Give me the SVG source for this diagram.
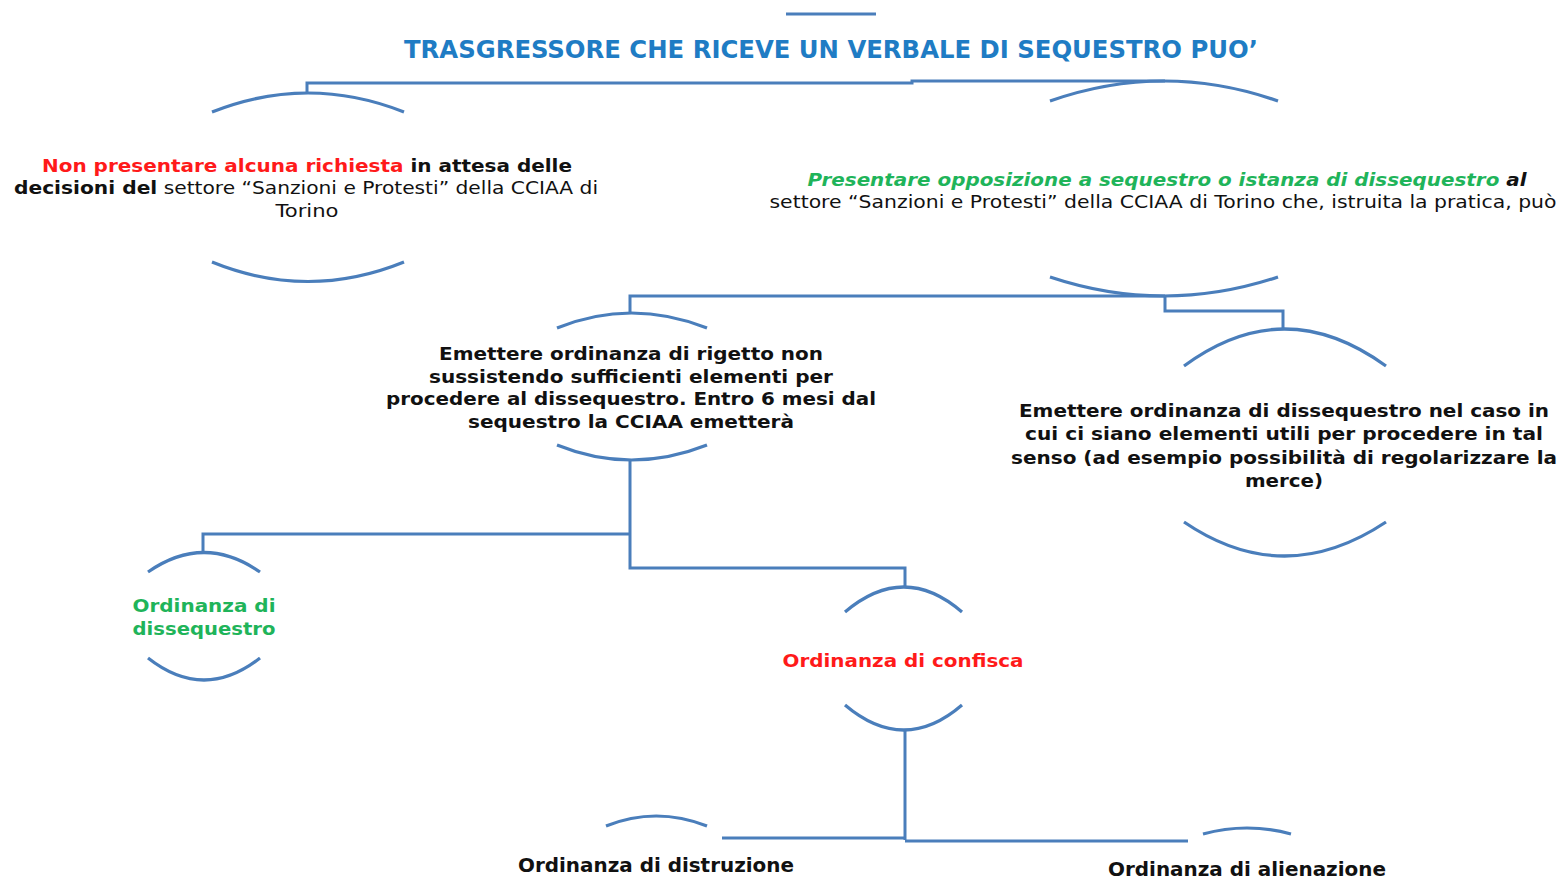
<svg xmlns="http://www.w3.org/2000/svg" width="1565" height="878" viewBox="0 0 1565 878">
<style>
.ln{fill:none;stroke:#4a7ebb;stroke-width:3}
.arc{fill:none;stroke:#4a7ebb;stroke-width:3.2}
.t{font-family:"DejaVu Sans","Liberation Sans",sans-serif;font-size:18px;fill:#111}
.b{font-weight:bold}
.red{fill:#ff1a1a}
.grn{fill:#1fb45a}
.ttl{font-family:"DejaVu Sans Condensed","DejaVu Sans",sans-serif;font-weight:bold;font-size:24px;fill:#1f7cc4}
.cond{font-family:"DejaVu Sans Condensed","DejaVu Sans",sans-serif;font-weight:bold;font-size:20px;fill:#111}
</style>
<rect width="1565" height="878" fill="#fff"/>
<g id="title">
<line class="ln" x1="786" y1="14" x2="876" y2="14"/>
<text class="ttl" x="831" y="58" text-anchor="middle" textLength="854" lengthAdjust="spacingAndGlyphs">TRASGRESSORE CHE RICEVE UN VERBALE DI SEQUESTRO PUO’</text>
</g>
<g id="connectors">
<polyline class="ln" points="307,93 307,83 912,83 912,81 1165,81"/>
<polyline class="ln" points="630,313 630,296 1165,296"/>
<polyline class="ln" points="1165,296 1165,311 1283,311 1283,329"/>
<polyline class="ln" points="630,460 630,568 905,568 905,587"/>
<polyline class="ln" points="630,534 203,534 203,552"/>
<polyline class="ln" points="905,730 905,840"/>
<polyline class="ln" points="722,838 905,838"/>
<polyline class="ln" points="905,841 1188,841"/>
</g>
<g id="node-left">
<path class="arc" d="M212,112 Q308,74 404,112"/>
<path class="arc" d="M212,262 Q308,301 404,262"/>
<text class="t" x="307" y="172" text-anchor="middle" textLength="530" lengthAdjust="spacingAndGlyphs"><tspan class="b red">Non presentare alcuna richiesta</tspan><tspan class="b"> in attesa delle</tspan></text>
<text class="t" x="306" y="194" text-anchor="middle" textLength="584" lengthAdjust="spacingAndGlyphs"><tspan class="b">decisioni del</tspan> settore “Sanzioni e Protesti” della CCIAA di</text>
<text class="t" x="307" y="217" text-anchor="middle" textLength="63" lengthAdjust="spacingAndGlyphs">Torino</text>
</g>
<g id="node-right">
<path class="arc" d="M1050,101 Q1164,61 1278,101"/>
<path class="arc" d="M1050,277 Q1164,315 1278,277"/>
<text class="t" x="1167" y="186" text-anchor="middle" textLength="719" lengthAdjust="spacingAndGlyphs" font-style="italic"><tspan class="b grn">Presentare opposizione a sequestro o istanza di dissequestro</tspan><tspan class="b"> al</tspan></text>
<text class="t" x="1163" y="208" text-anchor="middle" textLength="787" lengthAdjust="spacingAndGlyphs">settore “Sanzioni e Protesti” della CCIAA di Torino che, istruita la pratica, può</text>
</g>
<g id="node-rigetto">
<path class="arc" d="M557,328 Q631,298 707,328"/>
<path class="arc" d="M557,445 Q631,475 707,445"/>
<text class="t b" x="631" y="360" text-anchor="middle" textLength="384" lengthAdjust="spacingAndGlyphs">Emettere ordinanza di rigetto non</text>
<text class="t b" x="631" y="383" text-anchor="middle" textLength="404" lengthAdjust="spacingAndGlyphs">sussistendo sufficienti elementi per</text>
<text class="t b" x="631" y="405" text-anchor="middle" textLength="490" lengthAdjust="spacingAndGlyphs">procedere al dissequestro. Entro 6 mesi dal</text>
<text class="t b" x="631" y="428" text-anchor="middle" textLength="326" lengthAdjust="spacingAndGlyphs">sequestro la CCIAA emetterà</text>
</g>
<g id="node-dissequestro-right">
<path class="arc" d="M1184,366 Q1284,292 1386,366"/>
<path class="arc" d="M1184,522 Q1284,590 1386,522"/>
<text class="t b" x="1284" y="417" text-anchor="middle" textLength="530" lengthAdjust="spacingAndGlyphs">Emettere ordinanza di dissequestro nel caso in</text>
<text class="t b" x="1284" y="440" text-anchor="middle" textLength="518" lengthAdjust="spacingAndGlyphs">cui ci siano elementi  utili per procedere in tal</text>
<text class="t b" x="1284" y="464" text-anchor="middle" textLength="546" lengthAdjust="spacingAndGlyphs">senso (ad esempio possibilità di regolarizzare la</text>
<text class="t b" x="1284" y="487" text-anchor="middle" textLength="78" lengthAdjust="spacingAndGlyphs">merce)</text>
</g>
<g id="node-ord-dissequestro">
<path class="arc" d="M148,572 Q204,533 260,572"/>
<path class="arc" d="M148,658 Q204,702 260,658"/>
<text class="t b grn" x="204" y="612" text-anchor="middle" textLength="143" lengthAdjust="spacingAndGlyphs">Ordinanza di</text>
<text class="t b grn" x="204" y="635" text-anchor="middle" textLength="143" lengthAdjust="spacingAndGlyphs">dissequestro</text>
</g>
<g id="node-confisca">
<path class="arc" d="M845,612 Q904,562 962,612"/>
<path class="arc" d="M845,705 Q904,755 962,705"/>
<text class="t b red" x="903" y="667" text-anchor="middle" textLength="241" lengthAdjust="spacingAndGlyphs">Ordinanza di confisca</text>
</g>
<g id="node-distruzione">
<path class="arc" d="M606,826 Q656,806 707,826"/>
<text class="cond" x="656" y="872" text-anchor="middle" textLength="276" lengthAdjust="spacingAndGlyphs">Ordinanza di distruzione</text>
</g>
<g id="node-alienazione">
<path class="arc" d="M1203,834 Q1247,822 1291,834"/>
<text class="cond" x="1247" y="876" text-anchor="middle" textLength="278" lengthAdjust="spacingAndGlyphs">Ordinanza di alienazione</text>
</g>
</svg>
